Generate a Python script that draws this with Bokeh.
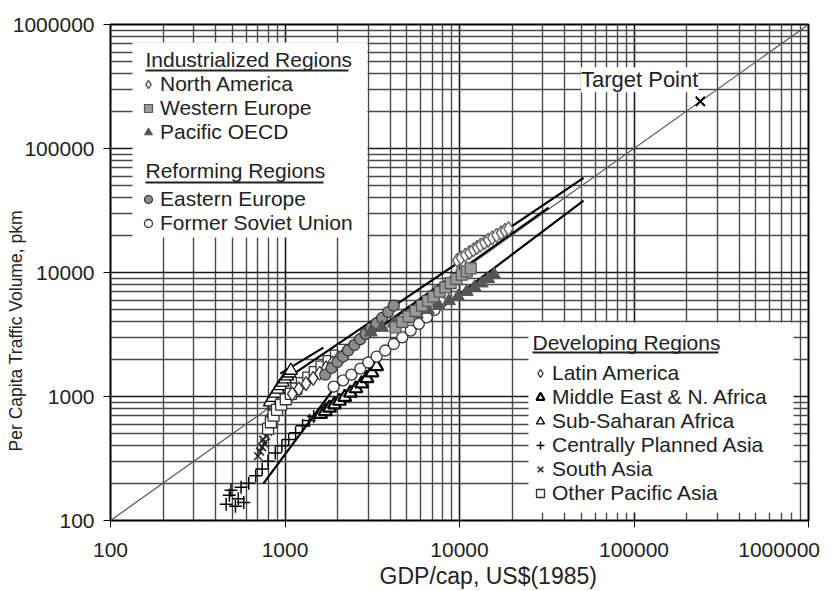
from bokeh.plotting import figure
from bokeh.models import FixedTicker, BoxAnnotation, Label, Legend, LegendItem
from bokeh.embed import file_html
from bokeh.resources import INLINE

# ---------------- data ----------------
tick_values = [100, 1000, 10000, 100000, 1000000]
tick_labels = ["100", "1000", "10000", "100000", "1000000"]

diag_x = [100, 1000000]
diag_y = [100, 1000000]

target_x = [240000]
target_y = [240000]

na_gdp = [9700, 10200, 10800, 11400, 12000, 12600, 13200, 13900, 14600, 15400, 16300, 17300, 18200, 19100]
na_pkm = [12500, 13100, 13800, 14500, 15200, 15900, 16600, 17400, 18200, 19000, 19900, 20900, 21800, 22600]

we_gdp = [4300, 4700, 5100, 5600, 6100, 6600, 7100, 7700, 8300, 8900, 9600, 10300, 11000, 11600]
we_pkm = [3600, 4000, 4400, 4900, 5400, 5900, 6400, 7000, 7600, 8200, 8900, 9600, 10200, 10800]

po_gdp = [3100, 3600, 4200, 4900, 5700, 6600, 7600, 8700, 9800, 11000, 12200, 13400, 14600, 15800]
po_pkm = [3300, 3600, 3900, 4200, 4600, 5000, 5400, 5900, 6400, 7000, 7600, 8200, 8900, 9600]

ee_gdp = [1700, 1850, 2000, 2150, 2300, 2500, 2700, 2900, 3100, 3350, 3600, 3900, 4200]
ee_pkm = [1500, 1700, 1900, 2100, 2350, 2600, 2900, 3200, 3550, 3900, 4300, 4800, 5400]

fsu_gdp = [1900, 2150, 2400, 2700, 3000, 3350, 3750, 4200, 4700, 5250, 5850, 6500, 7200, 7800]
fsu_pkm = [1200, 1350, 1500, 1680, 1880, 2100, 2350, 2650, 3000, 3400, 3850, 4350, 5000, 5750]

la_gdp = [1100, 1200, 1320, 1450, 1580, 1720, 1870, 2030, 2200, 2380, 2560, 2760, 3000]
la_pkm = [1050, 1150, 1270, 1400, 1540, 1700, 1870, 2050, 2250, 2470, 2700, 3000, 3400]

me_gdp = [1600, 1700, 1800, 1920, 2050, 2200, 2370, 2550, 2750, 2950, 3150, 3350]
me_pkm = [720, 760, 810, 860, 920, 990, 1070, 1160, 1270, 1400, 1560, 1750]

ssa_gdp = [820, 850, 880, 910, 940, 970, 1000, 1030, 1060, 1080]
ssa_pkm = [900, 980, 1060, 1140, 1220, 1300, 1380, 1460, 1540, 1620]

cpa_gdp = [460, 490, 520, 480, 540, 580, 560, 620, 680, 740, 800, 880, 960, 1050, 1150, 1260, 1380, 1460]
cpa_pkm = [135, 175, 130, 160, 150, 140, 185, 200, 230, 260, 300, 350, 400, 450, 510, 580, 640, 690]

sa_gdp = [700, 720, 740, 760, 750, 780, 800, 790, 820, 840, 860, 830, 870, 890]
sa_pkm = [330, 360, 390, 420, 450, 480, 520, 560, 600, 650, 700, 760, 820, 880]

opa_gdp = [800, 830, 860, 900, 950, 1010, 1080, 1160, 1250, 1360, 1480, 1620, 1780, 1960, 2150]
opa_pkm = [550, 620, 700, 780, 860, 950, 1050, 1160, 1280, 1420, 1570, 1740, 1930, 2140, 2380]

# trend lines (GDP/cap, pkm)
trend_upper_x = [950, 51400]
trend_upper_y = [1300, 58000]
trend_mid_x = [1230, 32400]
trend_mid_y = [1270, 33400]
trend_low_x = [753, 1900, 51400]
trend_low_y = [199, 1150, 38000]
trend_short_x = [940, 1660]
trend_short_y = [1530, 2480]

x_title = "GDP/cap, US$(1985)"
y_title = "Per Capita Traffic Volume, pkm"

# ---------------- figure ----------------
FONT = "Liberation Sans"
TXT = "#222222"
NB = "\u00a0"

p = figure(x_axis_type="log", y_axis_type="log",
           x_range=(100, 1000000), y_range=(100, 1000000),
           frame_width=698, frame_height=496,
           min_border_left=110, min_border_top=24, min_border_right=29, min_border_bottom=40,
           output_backend="svg", toolbar_location=None)
p.background_fill_color = "white"
p.border_fill_color = "white"
p.outline_line_color = "black"
p.outline_line_width = 2

minor = [m * 10 ** e for e in range(2, 6) for m in range(2, 10)]
for ax in (p.xaxis, p.yaxis):
    ax.ticker = FixedTicker(ticks=tick_values, minor_ticks=minor)
    ax.major_tick_out = 7
    ax.major_tick_in = 0
    ax.minor_tick_out = 0
    ax.minor_tick_in = 0
    ax.major_tick_line_color = "black"
    ax.axis_line_color = None
    ax.major_label_text_font = FONT
    ax.major_label_text_font_size = "21px"
    ax.major_label_text_color = TXT
    ax.axis_label_text_font = FONT
    ax.axis_label_text_font_style = "normal"
    ax.axis_label_text_color = TXT

x_over = {v: l for v, l in zip(tick_values, tick_labels)}
x_over[tick_values[-1]] = tick_labels[-1] + NB * 3     # drawn a little left of its tick, as in the original
p.xaxis.major_label_overrides = x_over
p.yaxis.major_label_overrides = {v: l for v, l in zip(tick_values, tick_labels)}
p.xaxis.major_label_standoff = 10
p.yaxis.major_label_standoff = 9

p.xaxis.axis_label = NB * 9 + x_title
p.xaxis.axis_label_text_font_size = "23px"
p.xaxis.axis_label_standoff = -1
p.yaxis.axis_label = y_title + NB * 24
p.yaxis.axis_label_text_font_size = "17.5px"
p.yaxis.axis_label_standoff = -16

for g in (p.xgrid, p.ygrid):
    g.grid_line_color = "#1a1a1a"
    g.grid_line_width = 1.6
    g.minor_grid_line_color = "#4a4a4a"
    g.minor_grid_line_width = 1.4

# diagonal
p.line(diag_x, diag_y, line_color="#555555", line_width=1.2)

# trend lines
for tx, ty in ((trend_upper_x, trend_upper_y), (trend_mid_x, trend_mid_y),
               (trend_low_x, trend_low_y), (trend_short_x, trend_short_y)):
    p.line(tx, ty, line_color="black", line_width=2.2)

S = 11
r_cpa = p.scatter(cpa_gdp, cpa_pkm, marker="cross", size=S + 2, line_color="black", line_width=1.5)
r_sa = p.scatter(sa_gdp, sa_pkm, marker="x", size=S, line_color="#222222", line_width=1.5)
r_ssa = p.scatter(ssa_gdp, ssa_pkm, marker="triangle", size=S + 2, fill_color="white", line_color="black", line_width=1.3)
r_me = p.scatter(me_gdp, me_pkm, marker="triangle", size=S + 2, fill_color="white", line_color="black", line_width=2.2)
r_opa = p.scatter(opa_gdp, opa_pkm, marker="square", size=S, fill_color="white", line_color="#333333", line_width=1.3)
r_la = p.scatter(la_gdp, la_pkm, marker="diamond", size=S + 3, fill_color="white", line_color="#333333", line_width=1.3)
r_fsu = p.scatter(fsu_gdp, fsu_pkm, marker="circle", size=S, fill_color="white", line_color="#333333", line_width=1.3)
r_ee = p.scatter(ee_gdp, ee_pkm, marker="circle", size=S, fill_color="#8c8c8c", line_color="#333333", line_width=1.2)
r_po = p.scatter(po_gdp, po_pkm, marker="triangle", size=S + 2, fill_color="#555555", line_color="#555555", line_width=1)
r_we = p.scatter(we_gdp, we_pkm, marker="square", size=S, fill_color="#9a9a9a", line_color="#555555", line_width=1.2)
r_na = p.scatter(na_gdp, na_pkm, marker="diamond", size=S + 3, fill_color="white", line_color="#666666", line_width=1.5)

r_tp = p.scatter(target_x, target_y, marker="x", size=13, line_color="black", line_width=2)

# target label
p.add_layout(Label(x=target_x[0], y=target_y[0], text="Target Point", text_align="right",
                   text_baseline="bottom", x_offset=-2, y_offset=9, text_font=FONT,
                   text_font_size="22px", text_color=TXT, background_fill_color="white",
                   background_fill_alpha=1))

# legend boxes (frame-relative screen px)
def white_box(l, r, b, t):
    p.add_layout(BoxAnnotation(left=l, right=r, bottom=b, top=t, left_units="screen",
                               right_units="screen", bottom_units="screen", top_units="screen",
                               fill_color="white", fill_alpha=1, line_alpha=0, level="annotation"))

def rule(l, r, y):
    p.add_layout(BoxAnnotation(left=l, right=r, bottom=y - 1, top=y + 1, left_units="screen",
                               right_units="screen", bottom_units="screen", top_units="screen",
                               fill_color="#222222", fill_alpha=1, line_alpha=0, level="annotation"))

white_box(22, 257, 283, 478)
white_box(418, 683, 8, 198)

def text_label(x, y, text, size):
    p.add_layout(Label(x=x, y=y, x_units="screen", y_units="screen", text=text,
                       text_baseline="middle", text_font=FONT,
                       text_font_size=size, text_color=TXT))

text_label(35, 461, "Industrialized Regions", "21px")
rule(35, 238, 450)
text_label(35, 350, "Reforming Regions", "21px")
rule(35, 213, 338)
text_label(422, 178, "Developing Regions", "21px")
rule(422, 608, 168)

def make_legend(items, loc):
    lg = Legend(items=[LegendItem(label=l, renderers=[r]) for l, r in items], location=loc,
                background_fill_alpha=0, border_line_alpha=0, padding=0, margin=0, spacing=0,
                glyph_width=20, glyph_height=20, label_height=20, label_standoff=2,
                label_text_font=FONT, label_text_font_size="21px", label_text_color=TXT)
    p.add_layout(lg)

make_legend([("North America", r_na), ("Western Europe", r_we), ("Pacific OECD", r_po)], (28, 376))
make_legend([("Eastern Europe", r_ee), ("Former Soviet Union", r_fsu)], (28, 285))
make_legend([("Latin America", r_la), ("Middle East & N. Africa", r_me), ("Sub-Saharan Africa", r_ssa),
             ("Centrally Planned Asia", r_cpa), ("South Asia", r_sa), ("Other Pacific Asia", r_opa)], (420, 15))

open("out.html", "w").write(file_html(p, INLINE))
